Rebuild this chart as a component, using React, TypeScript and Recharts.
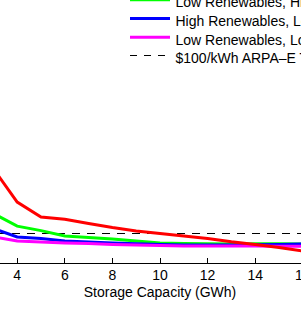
import { LineChart, Line, XAxis, YAxis, ReferenceLine, Legend } from 'recharts';

// storage capacity (GWh)
const capacity = [3, 4, 5, 6, 7, 8, 9, 10, 11, 12, 13, 14, 15, 16];

// cost ($/kWh) per scenario
const highRenHighCost = [314, 203, 153, 146, 132, 118, 107, 98, 90, 82, 71, 62, 52, 40];
const lowRenHighCost = [165, 123, 108, 90, 85, 80, 73, 67, 65, 64, 63, 64, 64, 63];
const highRenLowCost = [115, 87, 82, 73, 70, 67, 64, 62, 60, 60, 60, 61, 62, 63];
const lowRenLowCost = [87, 73, 70, 67, 65, 62, 60, 58, 57, 57, 57, 57, 56, 56];

const ARPA_TARGET = 100;
const xTicks = [0, 2, 4, 6, 8, 10, 12, 14, 16, 18, 20];

const FONT = '"Liberation Sans", Arial, Helvetica, sans-serif';

const series = [
  { key: 'hrhc', name: 'High Renewables, High Storage Cost', color: '#ff0000', values: highRenHighCost },
  { key: 'lrhc', name: 'Low Renewables, High Storage Cost', color: '#00ff00', values: lowRenHighCost },
  { key: 'hrlc', name: 'High Renewables, Low Storage Cost', color: '#0000ff', values: highRenLowCost },
  { key: 'lrlc', name: 'Low Renewables, Low Storage Cost', color: '#ff00ff', values: lowRenLowCost },
];

const data = capacity.map((gwh, i) => {
  const row: { [k: string]: number } = { gwh };
  series.forEach((s) => (row[s.key] = s.values[i]));
  return row;
});

const Tick = ({ x, y, payload }: any) => (
  <g>
    <line x1={x} x2={x} y1={y} y2={y - 5} stroke="#000" strokeWidth={1} shapeRendering="crispEdges" />
    <text x={x} y={y + 17} textAnchor="middle" fontSize={14} fontFamily={FONT} fill="#000">
      {payload.value}
    </text>
  </g>
);

const AxisTitle = ({ viewBox }: any) => (
  <text
    x={viewBox.x + viewBox.width / 2}
    y={viewBox.y + 34}
    textAnchor="middle"
    fontSize={14}
    fontFamily={FONT}
    fill="#000"
  >
    Storage Capacity (GWh)
  </text>
);

const renderLegend = () => {
  const rows = [
    ...series.map((s) => ({ name: s.name, color: s.color, dash: undefined as string | undefined, w: 3 })),
    { name: '$100/kWh ARPA–E Target', color: '#000', dash: '7 7', w: 1 },
  ];
  return (
    <svg width={260} height={100} style={{ display: 'block' }}>
      {rows.map((r, i) => {
        const cy = 11.1 + i * 18.7;
        return (
          <g key={r.name}>
            <line
              x1={0}
              x2={40}
              y1={cy}
              y2={cy}
              stroke={r.color}
              strokeWidth={r.w}
              strokeDasharray={r.dash}
              shapeRendering={r.dash ? 'crispEdges' : undefined}
            />
            <text x={45.5} y={cy + 7.5} fontSize={14} fontFamily={FONT} fill="#000">
              {r.name}
            </text>
          </g>
        );
      })}
    </svg>
  );
};

export default function App() {
  return (
    <div
      style={{
        position: 'fixed',
        left: 0,
        top: 0,
        width: 301,
        height: 316,
        overflow: 'hidden',
        background: '#fff',
        fontFamily: FONT,
      }}
    >
      <div style={{ position: 'absolute', left: -78, top: -37 }}>
        <LineChart width={476} height={360} data={data} margin={{ top: 0, right: 0, bottom: 0, left: 0 }}>
          <XAxis
            type="number"
            dataKey="gwh"
            domain={[0, 20]}
            ticks={xTicks}
            interval={0}
            height={60}
            tickSize={0}
            tickMargin={0}
            tickLine={false}
            tick={<Tick />}
            axisLine={{ stroke: '#000', strokeWidth: 1, shapeRendering: 'crispEdges' }}
            label={<AxisTitle />}
          />
          <YAxis hide type="number" domain={[0, 1000]} />
          <ReferenceLine
            y={ARPA_TARGET}
            stroke="#000"
            strokeWidth={1}
            strokeDasharray="8 7"
            shapeRendering="crispEdges"
          />
          {[1, 2, 3, 0].map((idx) => {
            const s = series[idx];
            return (
              <Line
                key={s.key}
                type="linear"
                dataKey={s.key}
                name={s.name}
                stroke={s.color}
                strokeWidth={3}
                dot={false}
                activeDot={false}
                isAnimationActive={false}
              />
            );
          })}
          <Legend
            layout="horizontal"
            verticalAlign="middle"
            align="center"
            content={renderLegend}
            wrapperStyle={{ position: 'absolute', left: 208, top: 7, width: 260, height: 100 }}
          />
        </LineChart>
      </div>
    </div>
  );
}
